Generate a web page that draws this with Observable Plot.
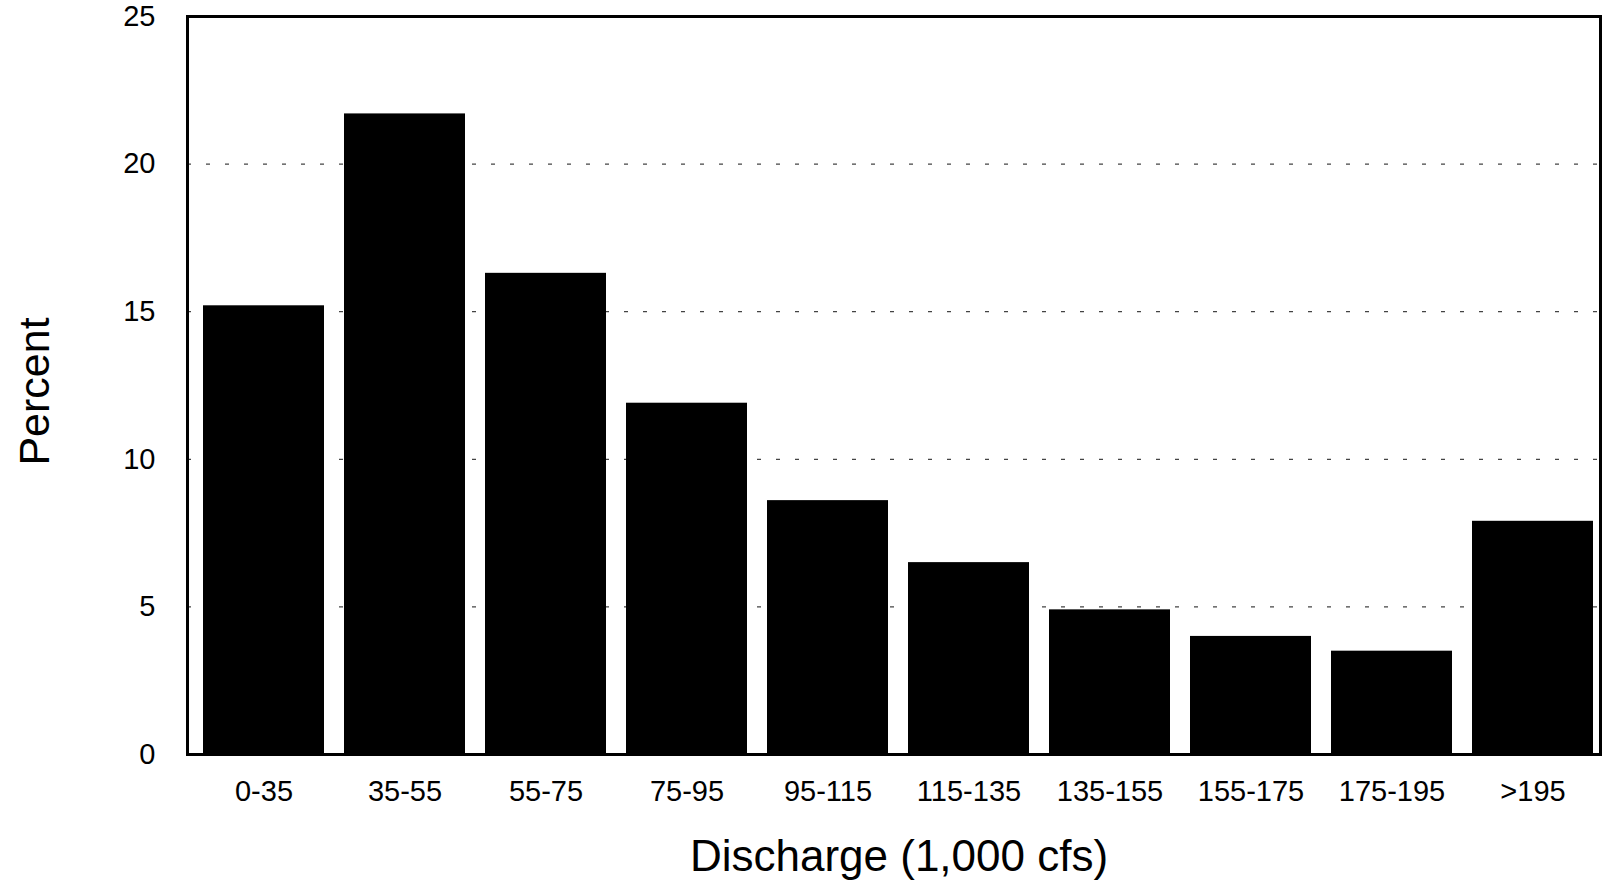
<!DOCTYPE html>
<html>
<head>
<meta charset="utf-8">
<script src="https://cdn.jsdelivr.net/npm/d3@7"></script>
<script src="https://cdn.jsdelivr.net/npm/@observablehq/plot@0.6"></script>
<style>
  html, body { margin: 0; padding: 0; background: #fff; }
  #chart { width: 1606px; height: 882px; }
</style>
</head>
<body>
<div id="chart"></div>
<script>
const categories = ["0-35", "35-55", "55-75", "75-95", "95-115", "115-135", "135-155", "155-175", "175-195", ">195"];
const percent = [15.2, 21.7, 16.3, 11.9, 8.6, 6.5, 4.9, 4.0, 3.5, 7.9];
const yTicks = [0, 5, 10, 15, 20, 25];
const gridValues = [5, 10, 15, 20];
const xTitle = "Discharge (1,000 cfs)";
const yTitle = "Percent";

const data = categories.map((c, i) => ({category: c, value: percent[i]}));

const chart = Plot.plot({
  width: 1606,
  height: 882,
  marginLeft: 187,
  marginRight: 6,
  marginTop: 16,
  marginBottom: 128,
  style: {fontFamily: "'Liberation Sans', Arial, Helvetica, sans-serif", color: "#000", background: "#fff"},
  x: {domain: categories, paddingInner: 0.145, paddingOuter: 0.075, align: 0.67, label: null},
  y: {domain: [0, 25], label: null},
  marks: [
    Plot.ruleY(gridValues, {stroke: "#444", strokeWidth: 1.2, strokeDasharray: "4,15"}),
    Plot.barY(data, {x: "category", y: "value", fill: "#000"}),
    Plot.frame({stroke: "#000", strokeWidth: 3}),
    Plot.axisY({ticks: yTicks, tickSize: 0, tickPadding: 32, fontSize: 29, label: null}),
    Plot.axisX({tickSize: 0, tickPadding: 26, fontSize: 29, label: null}),
    Plot.text([xTitle], {frameAnchor: "bottom", dy: 116, dx: 5, fontSize: 44, fill: "#000"}),
    Plot.text([yTitle], {frameAnchor: "left", textAnchor: "middle", rotate: -90, dx: -152, dy: 6, fontSize: 43, fill: "#000"})
  ]
});
document.getElementById("chart").appendChild(chart);
</script>
</body>
</html>
